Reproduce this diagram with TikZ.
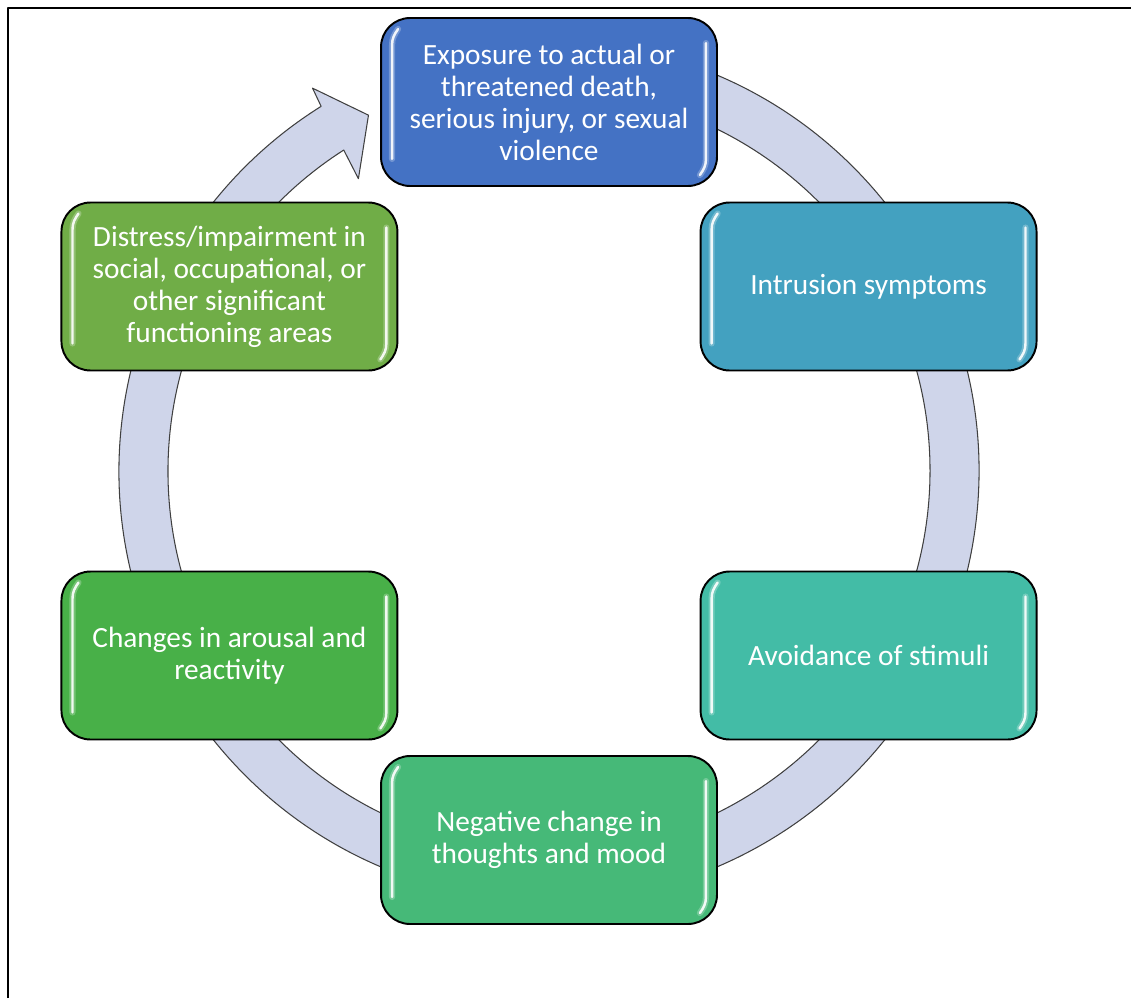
\documentclass[tikz,border=0pt]{standalone}
\usepackage{fontspec}
\setmainfont{Carlito}
\usetikzlibrary{calc}
\definecolor{ringfill}{RGB}{207,213,234}
\definecolor{ringline}{RGB}{64,64,64}
\definecolor{cExposure}{RGB}{68,114,196}
\definecolor{cIntrusion}{RGB}{67,161,192}
\definecolor{cAvoidance}{RGB}{67,188,166}
\definecolor{cNegmood}{RGB}{70,185,120}
\definecolor{cArousal}{RGB}{72,176,72}
\definecolor{cDistress}{RGB}{112,173,71}
\begin{document}
\begin{tikzpicture}[line cap=round,line join=round,x=0.02cm,y=0.02cm,
    stage/.style={draw=black,line width=1.1pt,rounded corners=0.58cm,minimum width=6.72cm,minimum height=3.36cm,
        inner sep=0pt,text=white,align=center,font=\fontsize{16.7}{18.2}\selectfont},
    shine/.style={white,line width=1.4pt,opacity=0.9},
    glow/.style={white,line width=3.5pt,opacity=0.25}]
    \useasboundingbox (-549,-527) rectangle (582,471);
    \coordinate (c) at (0,0);
    \draw [line width=1.1pt,line cap=butt] (-541,-527) |- (582,463);
    \draw [line width=0.6pt,color=ringline,fill=ringfill] (80:430) arc [start angle=80,end angle=-238,radius=430]
        -- (121.7:450) -- (116.9:399) -- (123.1:349) -- (122.6:381)
        arc [start angle=-237.4,end angle=80,radius=381] -- cycle;
    \node [stage,fill=cExposure] (exposure) at (90:369) {Exposure to actual or\\threatened death,\\serious injury, or sexual\\violence};
    \node [stage,fill=cIntrusion] (intrusion) at (30:369) {Intrusion symptoms};
    \node [stage,fill=cAvoidance] (avoidance) at (-30:369) {Avoidance of stimuli};
    \node [stage,fill=cNegmood] (negmood) at (-90:369) {Negative change in\\thoughts and mood};
    \node [stage,fill=cArousal] (arousal) at (210:369) {Changes in arousal and\\reactivity};
    \node [stage,fill=cDistress] (distress) at (150:369) {Distress/impairment in\\social, occupational, or\\other significant\\functioning areas};
    \foreach \n in {exposure,intrusion,avoidance,negmood,arousal,distress}{
        \foreach \s in {glow,shine}{
            \draw [\s] ([shift={(18,-12)}]\n.north west) to[out=-125,in=90] ([shift={(12,-28)}]\n.north west) -- ([shift={(12,28)}]\n.south west);
            \draw [\s] ([shift={(-12,-26)}]\n.north east) -- ([shift={(-12,28)}]\n.south east) to[out=-90,in=55] ([shift={(-18,12)}]\n.south east);
        }
    }
\end{tikzpicture}
\end{document}
